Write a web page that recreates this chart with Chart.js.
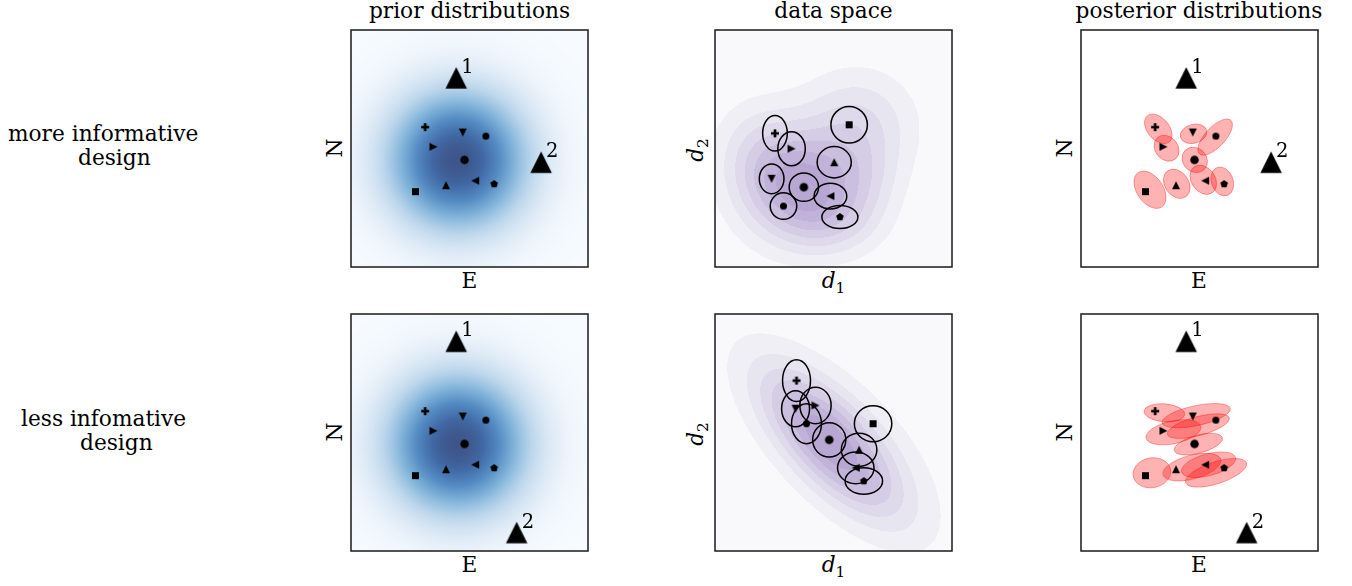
<!DOCTYPE html>
<html>
<head>
<meta charset="utf-8">
<script src="https://cdn.jsdelivr.net/npm/chart.js@4/dist/chart.umd.min.js"></script>
<style>
  body { margin: 0; width: 1352px; height: 586px; position: relative; overflow: hidden; background: #fff;
         font-family: "DejaVu Serif", serif; color: #000; }
  canvas { position: absolute; }
  .t { position: absolute; font-size: 21.7px; line-height: 1; white-space: nowrap; }
  .c { transform: translateX(-50%); }
  .r { transform: translate(-50%, -50%) rotate(-90deg); }
  sub { font-size: 70%; vertical-align: -0.3em; line-height: 0; }
</style>
</head>
<body>
<div class="t c" style="left:469.5px;top:0px">prior distributions</div>
<div class="t c" style="left:833.5px;top:0px">data space</div>
<div class="t c" style="left:1199px;top:0px">posterior distributions</div>

<div class="t" style="left:8px;top:123px">more informative</div>
<div class="t" style="left:78px;top:147px">design</div>
<div class="t" style="left:21px;top:408px">less infomative</div>
<div class="t" style="left:80px;top:432px">design</div>

<div class="t c" style="left:469.5px;top:270px">E</div>
<div class="t c" style="left:469.5px;top:554px">E</div>
<div class="t c" style="left:1199px;top:270px">E</div>
<div class="t c" style="left:1199px;top:554px">E</div>
<div class="t c" style="left:833.5px;top:270px"><i>d</i><sub>1</sub></div>
<div class="t c" style="left:833.5px;top:554px"><i>d</i><sub>1</sub></div>
<div class="t r" style="left:335px;top:148px">N</div>
<div class="t r" style="left:335px;top:432px">N</div>
<div class="t r" style="left:1065px;top:148px">N</div>
<div class="t r" style="left:1065px;top:432px">N</div>
<div class="t r" style="left:696px;top:150px"><i>d</i><sub>2</sub></div>
<div class="t r" style="left:696px;top:434px"><i>d</i><sub>2</sub></div>

<script>
// ---- sources (E/N, same in both designs) ----
const SRC_SHAPES = ["plus", "triDown", "circle", "triRight", "dot", "triLeft", "pentagon", "triUp", "square"];
const SRC_E = [0.313, 0.472, 0.569, 0.348, 0.479, 0.524, 0.604, 0.401, 0.272];
const SRC_N = [0.590, 0.567, 0.552, 0.507, 0.452, 0.364, 0.350, 0.345, 0.318];

// ---- stations ----
const STA_LABELS = ["1", "2"];
const STA_E_MORE = [0.444, 0.802];
const STA_N_MORE = [0.798, 0.442];
const STA_E_LESS = [0.444, 0.699];
const STA_N_LESS = [0.885, 0.078];

// ---- prior (isotropic gaussian) ----
const PRIOR_CENTER = [0.45, 0.45];
const PRIOR_SIGMA = 0.19;

// ---- data space: predicted data + noise ellipses ----
const D1_MORE = [0.253, 0.323, 0.566, 0.503, 0.239, 0.375, 0.487, 0.289, 0.527];
const D2_MORE = [0.564, 0.499, 0.600, 0.442, 0.372, 0.337, 0.299, 0.257, 0.211];
const DRX_MORE = [0.052, 0.058, 0.077, 0.072, 0.052, 0.062, 0.069, 0.056, 0.076];
const DRY_MORE = [0.075, 0.072, 0.077, 0.066, 0.063, 0.060, 0.054, 0.056, 0.049];
const DSHAPE_MORE = ["plus", "triRight", "square", "triUp", "triDown", "dot", "triLeft", "circle", "pentagon"];

const D1_LESS = [0.344, 0.340, 0.424, 0.386, 0.482, 0.667, 0.608, 0.594, 0.628];
const D2_LESS = [0.719, 0.600, 0.614, 0.537, 0.469, 0.537, 0.427, 0.351, 0.295];
const DRX_LESS = [0.059, 0.059, 0.066, 0.063, 0.070, 0.079, 0.075, 0.077, 0.079];
const DRY_LESS = [0.088, 0.076, 0.077, 0.084, 0.072, 0.076, 0.070, 0.067, 0.056];
const DSHAPE_LESS = ["plus", "triDown", "triRight", "circle", "dot", "square", "triUp", "triLeft", "pentagon"];

// KDE of the data space, as a few gaussian components
const KDE_MORE_X = [0.36, 0.60, 0.18, 0.52, 0.64];
const KDE_MORE_Y = [0.33, 0.60, 0.50, 0.18, 0.36];
const KDE_MORE_SX = [0.17, 0.17, 0.13, 0.14, 0.11];
const KDE_MORE_SY = [0.16, 0.16, 0.15, 0.10, 0.12];
const KDE_MORE_ANG = [0, 0, 0, 0, 0];
const KDE_MORE_W = [1, 0.45, 0.3, 0.25, 0.2];

const KDE_LESS_X = [0.48, 0.55];
const KDE_LESS_Y = [0.46, 0.45];
const KDE_LESS_SX = [0.27, 0.35];
const KDE_LESS_SY = [0.11, 0.17];
const KDE_LESS_ANG = [-47, -45];
const KDE_LESS_W = [1, 0.3];

// ---- posterior blobs (one per source, same order as SRC_*) ----
const POST_MORE_X = [0.326, 0.475, 0.566, 0.361, 0.480, 0.516, 0.596, 0.404, 0.291];
const POST_MORE_Y = [0.583, 0.562, 0.548, 0.501, 0.452, 0.368, 0.361, 0.351, 0.326];
const POST_MORE_A = [0.072, 0.057, 0.097, 0.059, 0.057, 0.067, 0.063, 0.067, 0.088];
const POST_MORE_B = [0.046, 0.040, 0.042, 0.048, 0.050, 0.050, 0.046, 0.050, 0.055];
const POST_MORE_ANG = [-50, 15, 47, -50, -45, -55, -70, -55, -55];

const POST_LESS_X = [0.352, 0.486, 0.495, 0.390, 0.495, 0.538, 0.570, 0.468, 0.299];
const POST_LESS_Y = [0.583, 0.571, 0.527, 0.501, 0.451, 0.364, 0.330, 0.354, 0.330];
const POST_LESS_A = [0.086, 0.147, 0.135, 0.118, 0.105, 0.118, 0.135, 0.126, 0.080];
const POST_LESS_B = [0.038, 0.042, 0.040, 0.048, 0.038, 0.046, 0.046, 0.050, 0.063];
const POST_LESS_ANG = [-5, 12, 15, 12, 15, 15, 18, 15, 10];

// ---- styles ----
const PRIOR_STOPS = [
  [0, [247, 251, 255]], [0.1, [225, 236, 247]], [0.25, [190, 215, 236]], [0.45, [130, 180, 218]],
  [0.65, [85, 140, 195]], [0.85, [65, 105, 165]], [1, [62, 85, 138]],
];
const KDE_COLORS = ["#f9f9fc", "#f0eff6", "#e7e5f0", "#dedaeb", "#d4cde5", "#cabfdf", "#c0b2d9", "#b8a7d3"];
const MARK_SIZE = { plus: 8, tri: 8, circle: 7, dot: 8.5, pentagon: 8, square: 7 };
const TRI_ROT = { triUp: 0, triRight: 90, triDown: 180, triLeft: 270 };

function markerImg(kind, s) {
  const n = Math.ceil(s) + 2;
  const c = document.createElement("canvas");
  c.width = c.height = n;
  const g = c.getContext("2d");
  g.translate(n / 2, n / 2);
  g.fillStyle = "#000";
  const r = s / 2;
  g.beginPath();
  if (kind === "tri") { g.moveTo(0, -r); g.lineTo(r, r); g.lineTo(-r, r); g.closePath(); }
  else if (kind === "circle" || kind === "dot") g.arc(0, 0, r, 0, Math.PI * 2);
  else if (kind === "square") g.rect(-r, -r, s, s);
  else if (kind === "pentagon") {
    for (let k = 0; k < 5; k++) {
      const a = -Math.PI / 2 + k * 2 * Math.PI / 5;
      g.lineTo(r * Math.cos(a), r * Math.sin(a));
    }
    g.closePath();
  } else if (kind === "plus") {
    const t = s / 3;
    g.rect(-r, -t / 2, s, t);
    g.rect(-t / 2, -r, t, s);
  }
  g.fill();
  return c;
}

const IMG = {};
Object.keys(MARK_SIZE).forEach((k) => (IMG[k] = markerImg(k, MARK_SIZE[k])));
const STA_IMG = markerImg("tri", 21.5);
const imgFor = (shape) => IMG[TRI_ROT[shape] !== undefined ? "tri" : shape];
const rotFor = (shape) => TRI_ROT[shape] || 0;

function interp(stops, v) {
  v = Math.max(0, Math.min(1, v));
  for (let i = 1; i < stops.length; i++) {
    if (v <= stops[i][0]) {
      const [v0, c0] = stops[i - 1], [v1, c1] = stops[i];
      const f = (v - v0) / (v1 - v0);
      return c0.map((c, k) => c + (c1[k] - c) * f);
    }
  }
  return stops[stops.length - 1][1];
}

function mixture(X, Y, SX, SY, ANG, W) {
  return (vx, vy) => {
    let s = 0;
    for (let i = 0; i < X.length; i++) {
      const a = ANG[i] * Math.PI / 180, dx = vx - X[i], dy = vy - Y[i];
      const u = dx * Math.cos(a) + dy * Math.sin(a);
      const w = -dx * Math.sin(a) + dy * Math.cos(a);
      s += W[i] * Math.exp(-0.5 * ((u / SX[i]) ** 2 + (w / SY[i]) ** 2));
    }
    return s;
  };
}

const hex = (h) => [1, 3, 5].map((i) => parseInt(h.slice(i, i + 2), 16));

// background field drawn pixel by pixel through the chart scales
function fieldPlugin(fn, colorOf) {
  return {
    id: "field",
    beforeDatasetsDraw(chart) {
      const { ctx, chartArea: a, scales: { x, y } } = chart;
      const w = Math.round(a.right - a.left), h = Math.round(a.bottom - a.top);
      const vals = new Float32Array(w * h);
      let max = 0;
      for (let j = 0; j < h; j++) {
        const vy = y.getValueForPixel(a.top + j + 0.5);
        for (let i = 0; i < w; i++) {
          const v = fn(x.getValueForPixel(a.left + i + 0.5), vy);
          vals[j * w + i] = v;
          if (v > max) max = v;
        }
      }
      const off = document.createElement("canvas");
      off.width = w; off.height = h;
      const g = off.getContext("2d");
      const img = g.createImageData(w, h);
      for (let p = 0; p < w * h; p++) {
        const c = colorOf(vals[p] / max);
        img.data[p * 4] = c[0]; img.data[p * 4 + 1] = c[1]; img.data[p * 4 + 2] = c[2]; img.data[p * 4 + 3] = 255;
      }
      g.putImageData(img, 0, 0);
      ctx.drawImage(off, a.left, a.top);
    },
  };
}

function ellipsePlugin(X, Y, A, B, ANG, style) {
  return {
    id: "ellipses",
    beforeDatasetsDraw(chart) {
      const { ctx, scales: { x, y } } = chart;
      const k = x.getPixelForValue(1) - x.getPixelForValue(0);
      ctx.save();
      X.forEach((cx, i) => {
        ctx.beginPath();
        ctx.ellipse(x.getPixelForValue(cx), y.getPixelForValue(Y[i]), A[i] * k, B[i] * k,
          -(ANG ? ANG[i] : 0) * Math.PI / 180, 0, Math.PI * 2);
        if (style.fill) { ctx.fillStyle = style.fill; ctx.fill(); }
        ctx.lineWidth = style.width;
        ctx.strokeStyle = style.stroke;
        ctx.stroke();
      });
      ctx.restore();
    },
  };
}

const framePlugin = {
  id: "frame",
  afterDraw(chart) {
    const { ctx, chartArea: a } = chart;
    ctx.save();
    ctx.strokeStyle = "#1a1a1a";
    ctx.lineWidth = 1.5;
    ctx.strokeRect(a.left, a.top, a.right - a.left, a.bottom - a.top);
    ctx.restore();
  },
};

const staLabelPlugin = {
  id: "staLabels",
  afterDatasetsDraw(chart) {
    const meta = chart.getDatasetMeta(chart.data.datasets.length - 1);
    if (!meta || chart.data.datasets[meta.index].label !== "stations") return;
    const { ctx } = chart;
    ctx.save();
    ctx.font = '19.5px "DejaVu Serif", serif';
    ctx.fillStyle = "#000";
    meta.data.forEach((pt, i) => ctx.fillText(STA_LABELS[i], pt.x + 5, pt.y - 5));
    ctx.restore();
  },
};

function pointsDataset(xs, ys, shapes, label) {
  return {
    label,
    data: xs.map((v, i) => ({ x: v, y: ys[i] })),
    pointStyle: (c) => imgFor(shapes[c.dataIndex]),
    pointRotation: (c) => rotFor(shapes[c.dataIndex]),
    pointRadius: 4,
    showLine: false,
  };
}

function stationsDataset(xs, ys) {
  return {
    label: "stations",
    data: xs.map((v, i) => ({ x: v, y: ys[i] })),
    pointStyle: STA_IMG,
    pointRadius: 11,
    showLine: false,
  };
}

function panel(left, top, datasets, plugins) {
  const cv = document.createElement("canvas");
  cv.width = 239; cv.height = 239;
  cv.style.left = left + "px";
  cv.style.top = top + "px";
  document.body.appendChild(cv);
  new Chart(cv, {
    type: "scatter",
    data: { datasets },
    options: {
      responsive: false, animation: false, events: [],
      layout: { padding: 1, autoPadding: false },
      plugins: { legend: { display: false }, tooltip: { enabled: false } },
      scales: {
        x: { type: "linear", min: 0, max: 1, display: false },
        y: { type: "linear", min: 0, max: 1, display: false },
      },
    },
    plugins: [...plugins, framePlugin, staLabelPlugin],
  });
}

const priorField = () => fieldPlugin(
  (vx, vy) => Math.exp(-0.5 * ((vx - PRIOR_CENTER[0]) ** 2 + (vy - PRIOR_CENTER[1]) ** 2) / PRIOR_SIGMA ** 2),
  (v) => interp(PRIOR_STOPS, v));
const kdeColors = KDE_COLORS.map(hex);
const kdeField = (fn) => fieldPlugin(fn, (v) => kdeColors[Math.min(7, Math.floor(v * 8))]);

const outline = { stroke: "#000", width: 1.5 };
const blob = { fill: "rgba(255,0,0,0.3)", stroke: "rgba(255,0,0,0.35)", width: 1 };

// row 1: more informative design
panel(350, 29, [pointsDataset(SRC_E, SRC_N, SRC_SHAPES, "sources"), stationsDataset(STA_E_MORE, STA_N_MORE)],
  [priorField()]);
panel(714, 29, [pointsDataset(D1_MORE, D2_MORE, DSHAPE_MORE, "data")],
  [kdeField(mixture(KDE_MORE_X, KDE_MORE_Y, KDE_MORE_SX, KDE_MORE_SY, KDE_MORE_ANG, KDE_MORE_W)),
   ellipsePlugin(D1_MORE, D2_MORE, DRX_MORE, DRY_MORE, null, outline)]);
panel(1080, 29, [pointsDataset(SRC_E, SRC_N, SRC_SHAPES, "sources"), stationsDataset(STA_E_MORE, STA_N_MORE)],
  [ellipsePlugin(POST_MORE_X, POST_MORE_Y, POST_MORE_A, POST_MORE_B, POST_MORE_ANG, blob)]);

// row 2: less informative design
panel(350, 313, [pointsDataset(SRC_E, SRC_N, SRC_SHAPES, "sources"), stationsDataset(STA_E_LESS, STA_N_LESS)],
  [priorField()]);
panel(714, 313, [pointsDataset(D1_LESS, D2_LESS, DSHAPE_LESS, "data")],
  [kdeField(mixture(KDE_LESS_X, KDE_LESS_Y, KDE_LESS_SX, KDE_LESS_SY, KDE_LESS_ANG, KDE_LESS_W)),
   ellipsePlugin(D1_LESS, D2_LESS, DRX_LESS, DRY_LESS, null, outline)]);
panel(1080, 313, [pointsDataset(SRC_E, SRC_N, SRC_SHAPES, "sources"), stationsDataset(STA_E_LESS, STA_N_LESS)],
  [ellipsePlugin(POST_LESS_X, POST_LESS_Y, POST_LESS_A, POST_LESS_B, POST_LESS_ANG, blob)]);
</script>
</body>
</html>
